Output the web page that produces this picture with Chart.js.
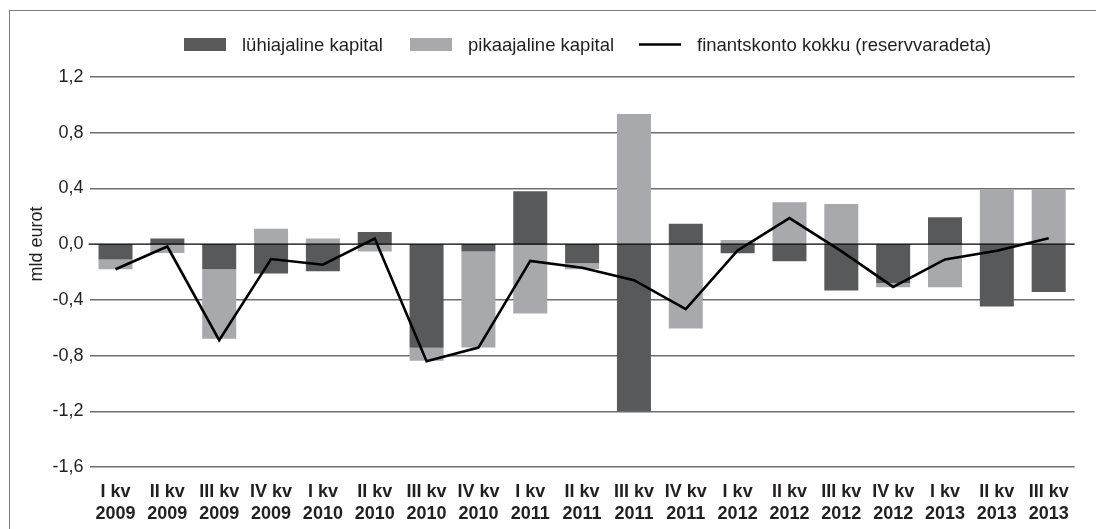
<!DOCTYPE html>
<html>
<head>
<meta charset="utf-8">
<script src="https://cdn.jsdelivr.net/npm/chart.js@4.4.1/dist/chart.umd.min.js"></script>
<style>
html,body{margin:0;padding:0;background:#fff;}
#wrap{position:relative;width:1096px;height:529px;overflow:hidden;background:#fff;}
#frame{position:absolute;left:9px;top:10px;width:1200px;height:700px;border-left:1.5px solid #7d7d7d;border-top:1.5px solid #7d7d7d;pointer-events:none;}
canvas{position:absolute;left:0;top:0;}
</style>
</head>
<body>
<div id="wrap"><canvas id="c" width="1096" height="529"></canvas><div id="frame"></div></div>
<script>
const quarters = ['I kv','II kv','III kv','IV kv','I kv','II kv','III kv','IV kv','I kv','II kv','III kv','IV kv','I kv','II kv','III kv','IV kv','I kv','II kv','III kv'];
const years = ['2009','2009','2009','2009','2010','2010','2010','2010','2011','2011','2011','2011','2012','2012','2012','2012','2013','2013','2013'];
const shortTerm = [-0.11, 0.04, -0.18, -0.21, -0.195, 0.088, -0.743, -0.052, 0.38, -0.137, -1.2, 0.146, -0.065, -0.122, -0.333, -0.279, 0.193, -0.448, -0.343];
const longTerm = [-0.07, -0.064, -0.50, 0.11, 0.04, -0.052, -0.095, -0.69, -0.498, -0.043, 0.934, -0.606, 0.029, 0.30, 0.288, -0.031, -0.31, 0.393, 0.393];
const financialAccount = [-0.18, -0.017, -0.69, -0.107, -0.148, 0.04, -0.84, -0.743, -0.12, -0.17, -0.259, -0.467, -0.045, 0.187, -0.05, -0.307, -0.11, -0.048, 0.043];
const seriesNames = ['lühiajaline kapital', 'pikaajaline kapital', 'finantskonto kokku (reservvaradeta)'];
const axisTitle = 'mld eurot';
const yMin = -1.6, yMax = 1.2, yStep = 0.4;

const FONT = '"Liberation Sans", Arial, Helvetica, sans-serif';
const TEXT = '#231f20';
const DARK = '#58595b';
const LIGHT = '#a7a9ac';

const customDraw = {
  id: 'customDraw',
  beforeDatasetDraw(chart, args) {
    if (args.meta.type !== 'line') return;
    const y = chart.scales.y.getPixelForValue(0);
    const ctx = chart.ctx, a = chart.chartArea;
    ctx.save();
    ctx.strokeStyle = '#000';
    ctx.lineWidth = 1.2;
    ctx.beginPath();
    ctx.moveTo(a.left - 1, y);
    ctx.lineTo(a.right, y);
    ctx.stroke();
    ctx.restore();
  },
  afterDraw(chart) {
    const ctx = chart.ctx;
    ctx.save();
    ctx.font = '18.5px ' + FONT;
    ctx.fillStyle = TEXT;
    ctx.textBaseline = 'middle';
    ctx.textAlign = 'left';
    const ly = 44.5;
    const starts = [184, 410, 639];
    const colors = [DARK, LIGHT, null];
    for (let i = 0; i < 3; i++) {
      const x = starts[i];
      if (colors[i]) {
        ctx.fillStyle = colors[i];
        ctx.fillRect(x, ly - 6.5, 42, 13);
      } else {
        ctx.strokeStyle = '#000';
        ctx.lineWidth = 2.5;
        ctx.beginPath();
        ctx.moveTo(x, ly);
        ctx.lineTo(x + 42, ly);
        ctx.stroke();
      }
      ctx.fillStyle = TEXT;
      ctx.fillText(seriesNames[i], x + 58, ly + 1);
    }
    ctx.translate(37, 244);
    ctx.rotate(-Math.PI / 2);
    ctx.textAlign = 'center';
    ctx.font = '18px ' + FONT;
    ctx.fillText(axisTitle, 0, 0);
    ctx.restore();
  }
};

new Chart(document.getElementById('c'), {
  type: 'bar',
  data: {
    labels: quarters.map((q, i) => [q, years[i]]),
    datasets: [
      { type: 'line', label: seriesNames[2], data: financialAccount, borderColor: '#000', borderWidth: 2.6, pointRadius: 0, tension: 0, stack: 'line', order: 0, fill: false },
      { label: seriesNames[0], data: shortTerm, backgroundColor: DARK, stack: 'bars', order: 1, barPercentage: 0.656, categoryPercentage: 1.0 },
      { label: seriesNames[1], data: longTerm, backgroundColor: LIGHT, stack: 'bars', order: 1, barPercentage: 0.656, categoryPercentage: 1.0 }
    ]
  },
  options: {
    responsive: false,
    animation: false,
    layout: { padding: { top: 77, right: 21.4, bottom: 0, left: 0 } },
    plugins: { legend: { display: false }, tooltip: { enabled: false }, title: { display: false } },
    scales: {
      x: {
        stacked: true,
        offset: true,
        grid: { display: false, drawTicks: false },
        border: { display: false },
        ticks: {
          font: { family: FONT, size: 18, weight: 'bold', lineHeight: 1.22 },
          color: TEXT, padding: 14, maxRotation: 0, minRotation: 0, autoSkip: false
        },
        afterFit(s) { s.height = 62; }
      },
      y: {
        stacked: true,
        min: yMin, max: yMax,
        ticks: {
          stepSize: yStep,
          font: { family: FONT, size: 18 },
          color: TEXT, padding: 6,
          callback: (v) => { const r = Math.round(v * 10) / 10; return (Math.abs(r) < 1e-9 ? 0 : r).toFixed(1).replace('.', ','); }
        },
        grid: {
          drawTicks: false,
          color: (c) => (c.tick && Math.abs(c.tick.value) < 1e-9) ? 'rgba(0,0,0,0)' : '#6d6e71',
          lineWidth: 1.5
        },
        border: { display: false },
        afterFit(s) { s.width = 89.6; }
      }
    }
  },
  plugins: [customDraw]
});
</script>
</body>
</html>
